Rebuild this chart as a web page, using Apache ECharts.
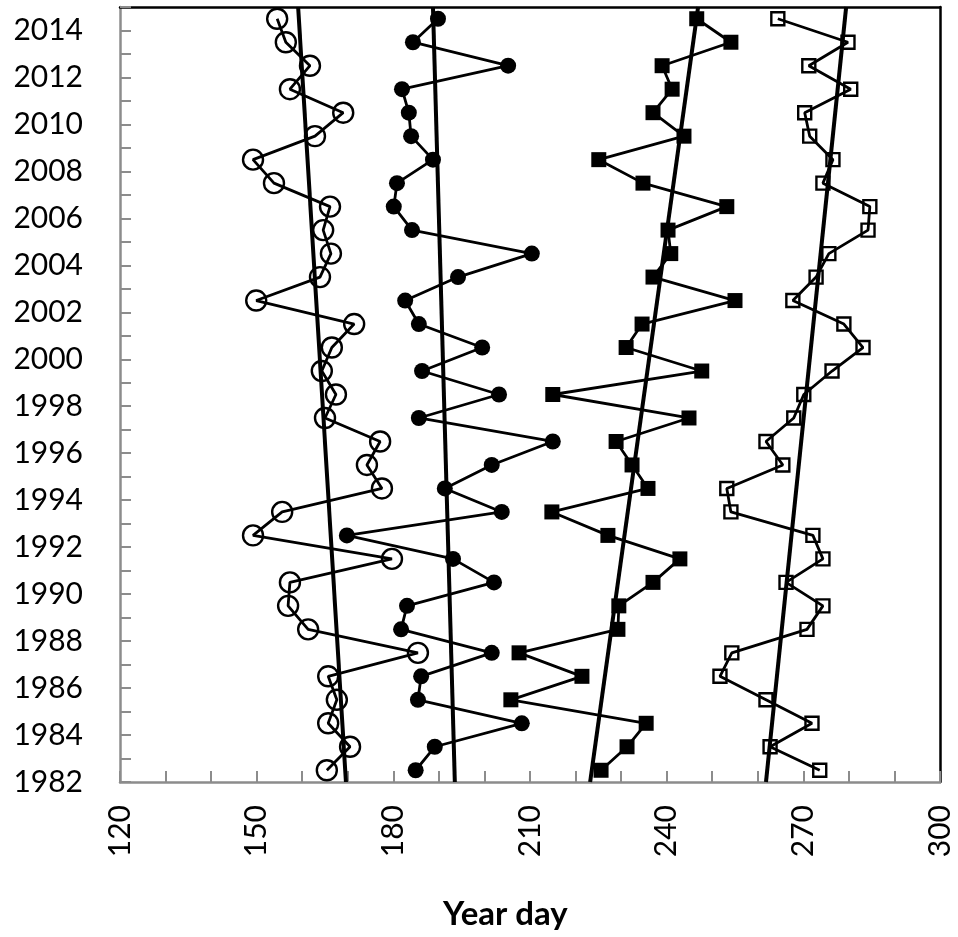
<!DOCTYPE html>
<html>
<head>
    <meta charset="utf-8">
    <script src="https://cdn.jsdelivr.net/npm/echarts@6/dist/echarts.min.js"></script>
    <style>
        body { margin: 0; background: #fff; }
    </style>
</head>
<body>
    <div id="main" style="width: 958px;height:937px;"></div>
    <script type="text/javascript">
        // years, top of chart = 2014
        var years = [1982, 1983, 1984, 1985, 1986, 1987, 1988, 1989, 1990, 1991, 1992,
            1993, 1994, 1995, 1996, 1997, 1998, 1999, 2000, 2001, 2002, 2003,
            2004, 2005, 2006, 2007, 2008, 2009, 2010, 2011, 2012, 2013, 2014];

        // year day values, 1982 -> 2014
        var openCircle = [165.4, 170.5, 165.7, 167.6, 165.7, 185.4, 161.3, 156.9, 157.3, 179.7, 149.2,
            155.6, 177.5, 174.2, 177.1, 165.0, 167.4, 164.3, 166.5, 171.4, 149.9, 163.9,
            166.3, 164.6, 166.1, 153.8, 149.2, 162.8, 169.0, 157.3, 161.7, 156.4, 154.5];
        var filledCircle = [184.9, 189.1, 208.2, 185.4, 186.1, 201.6, 181.7, 183.0, 202.1, 193.1, 169.8,
            203.8, 191.3, 201.6, 215.0, 185.6, 203.2, 186.3, 199.5, 185.6, 182.6, 194.2,
            210.4, 184.1, 180.1, 180.8, 188.7, 183.9, 183.4, 181.9, 205.2, 184.3, 189.8];
        var filledSquare = [225.6, 231.3, 235.5, 205.8, 221.4, 207.6, 229.3, 229.5, 237.0, 242.9, 227.1,
            214.8, 235.9, 232.4, 228.9, 244.9, 215.0, 247.7, 231.1, 234.6, 255.0, 237.0,
            240.9, 240.3, 253.2, 234.8, 225.1, 243.8, 237.0, 241.2, 239.0, 254.1, 246.6];
        var openSquare = [273.6, 262.7, 271.9, 261.8, 251.7, 254.3, 270.8, 274.3, 266.2, 274.3, 272.1,
            254.1, 253.2, 265.5, 261.8, 267.9, 270.1, 276.3, 283.1, 278.9, 267.7, 272.8,
            275.6, 284.2, 284.6, 274.3, 276.5, 271.4, 270.3, 280.4, 271.2, 279.8, 264.4];

        // trend lines: [day at 1982, day at 2015]
        var trendOpenCircle = [169.6, 159.1];
        var trendFilledCircle = [193.5, 188.7];
        var trendFilledSquare = [223.2, 246.9];
        var trendOpenSquare = [261.8, 279.4];
        var trendYears = [1982, 2015];

        function pts(vals) {
            return vals.map(function (v, i) { return [v, years[i] + 0.5]; });
        }
        function trend(t) {
            return [[t[0], trendYears[0]], [t[1], trendYears[1]]];
        }

        var myChart = echarts.init(document.getElementById('main'));

        var lineStyle = { color: '#000', width: 2.8 };
        var font = 'Lato, "Open Sans", sans-serif';

        function dataSeries(vals, symbol, size, hollow) {
            return {
                type: 'line',
                data: pts(vals),
                symbol: symbol,
                symbolSize: size,
                showAllSymbol: true,
                lineStyle: lineStyle,
                itemStyle: hollow
                    ? { color: 'rgba(0,0,0,0)', borderColor: '#000', borderWidth: 2.4 }
                    : { color: '#000', borderColor: '#000', borderWidth: 0 },
                emphasis: { disabled: true },
                animation: false,
                z: 3
            };
        }
        function trendSeries(t) {
            return {
                type: 'line',
                data: trend(t),
                symbol: 'none',
                lineStyle: { color: '#000', width: 4 },
                animation: false,
                z: 4
            };
        }

        myChart.setOption({
            grid: { left: 120, right: 18, top: 7, bottom: 155 },
            xAxis: [{
                type: 'value',
                min: 120,
                max: 300,
                interval: 10,
                axisLine: { show: true, lineStyle: { color: '#8c8c8c', width: 2.5 } },
                axisTick: { show: true, inside: true, length: 11, lineStyle: { color: '#8c8c8c', width: 2 } },
                splitLine: { show: false },
                axisLabel: {
                    rotate: 90,
                    margin: 23,
                    color: '#000',
                    fontSize: 30,
                    fontFamily: font,
                    formatter: function (v) { return v % 30 === 0 ? String(v) : ''; }
                }
            }, {
                type: 'value',
                position: 'top',
                min: 120,
                max: 300,
                axisLine: { show: true, onZero: false, lineStyle: { color: '#000', width: 2.5 } },
                axisTick: { show: false },
                axisLabel: { show: false },
                splitLine: { show: false }
            }],
            yAxis: [{
                type: 'value',
                min: 1982,
                max: 2015,
                interval: 1,
                axisLine: { show: true, lineStyle: { color: '#8c8c8c', width: 2.5 } },
                axisTick: { show: true, inside: true, length: 11, lineStyle: { color: '#8c8c8c', width: 2 } },
                splitLine: { show: false },
                axisLabel: {
                    margin: 37,
                    color: '#000',
                    fontSize: 30,
                    fontFamily: font,
                    formatter: function (v) { return v % 2 === 0 ? String(v) : ''; }
                }
            }, {
                type: 'value',
                position: 'right',
                min: 1982,
                max: 2015,
                axisLine: { show: true, onZero: false, lineStyle: { color: '#000', width: 2.5 } },
                axisTick: { show: false },
                axisLabel: { show: false },
                splitLine: { show: false }
            }],
            graphic: [{
                type: 'text',
                left: 443,
                top: 898,
                style: {
                    text: 'Year day',
                    fontSize: 33,
                    fontWeight: 'bold',
                    fontFamily: font,
                    fill: '#000'
                }
            }],
            series: [
                dataSeries(openCircle, 'circle', 20, true),
                dataSeries(filledCircle, 'circle', 16, false),
                dataSeries(filledSquare, 'rect', 15, false),
                dataSeries(openSquare, 'rect', 13, true),
                trendSeries(trendOpenCircle),
                trendSeries(trendFilledCircle),
                trendSeries(trendFilledSquare),
                trendSeries(trendOpenSquare)
            ]
        });
    </script>
</body>
</html>
